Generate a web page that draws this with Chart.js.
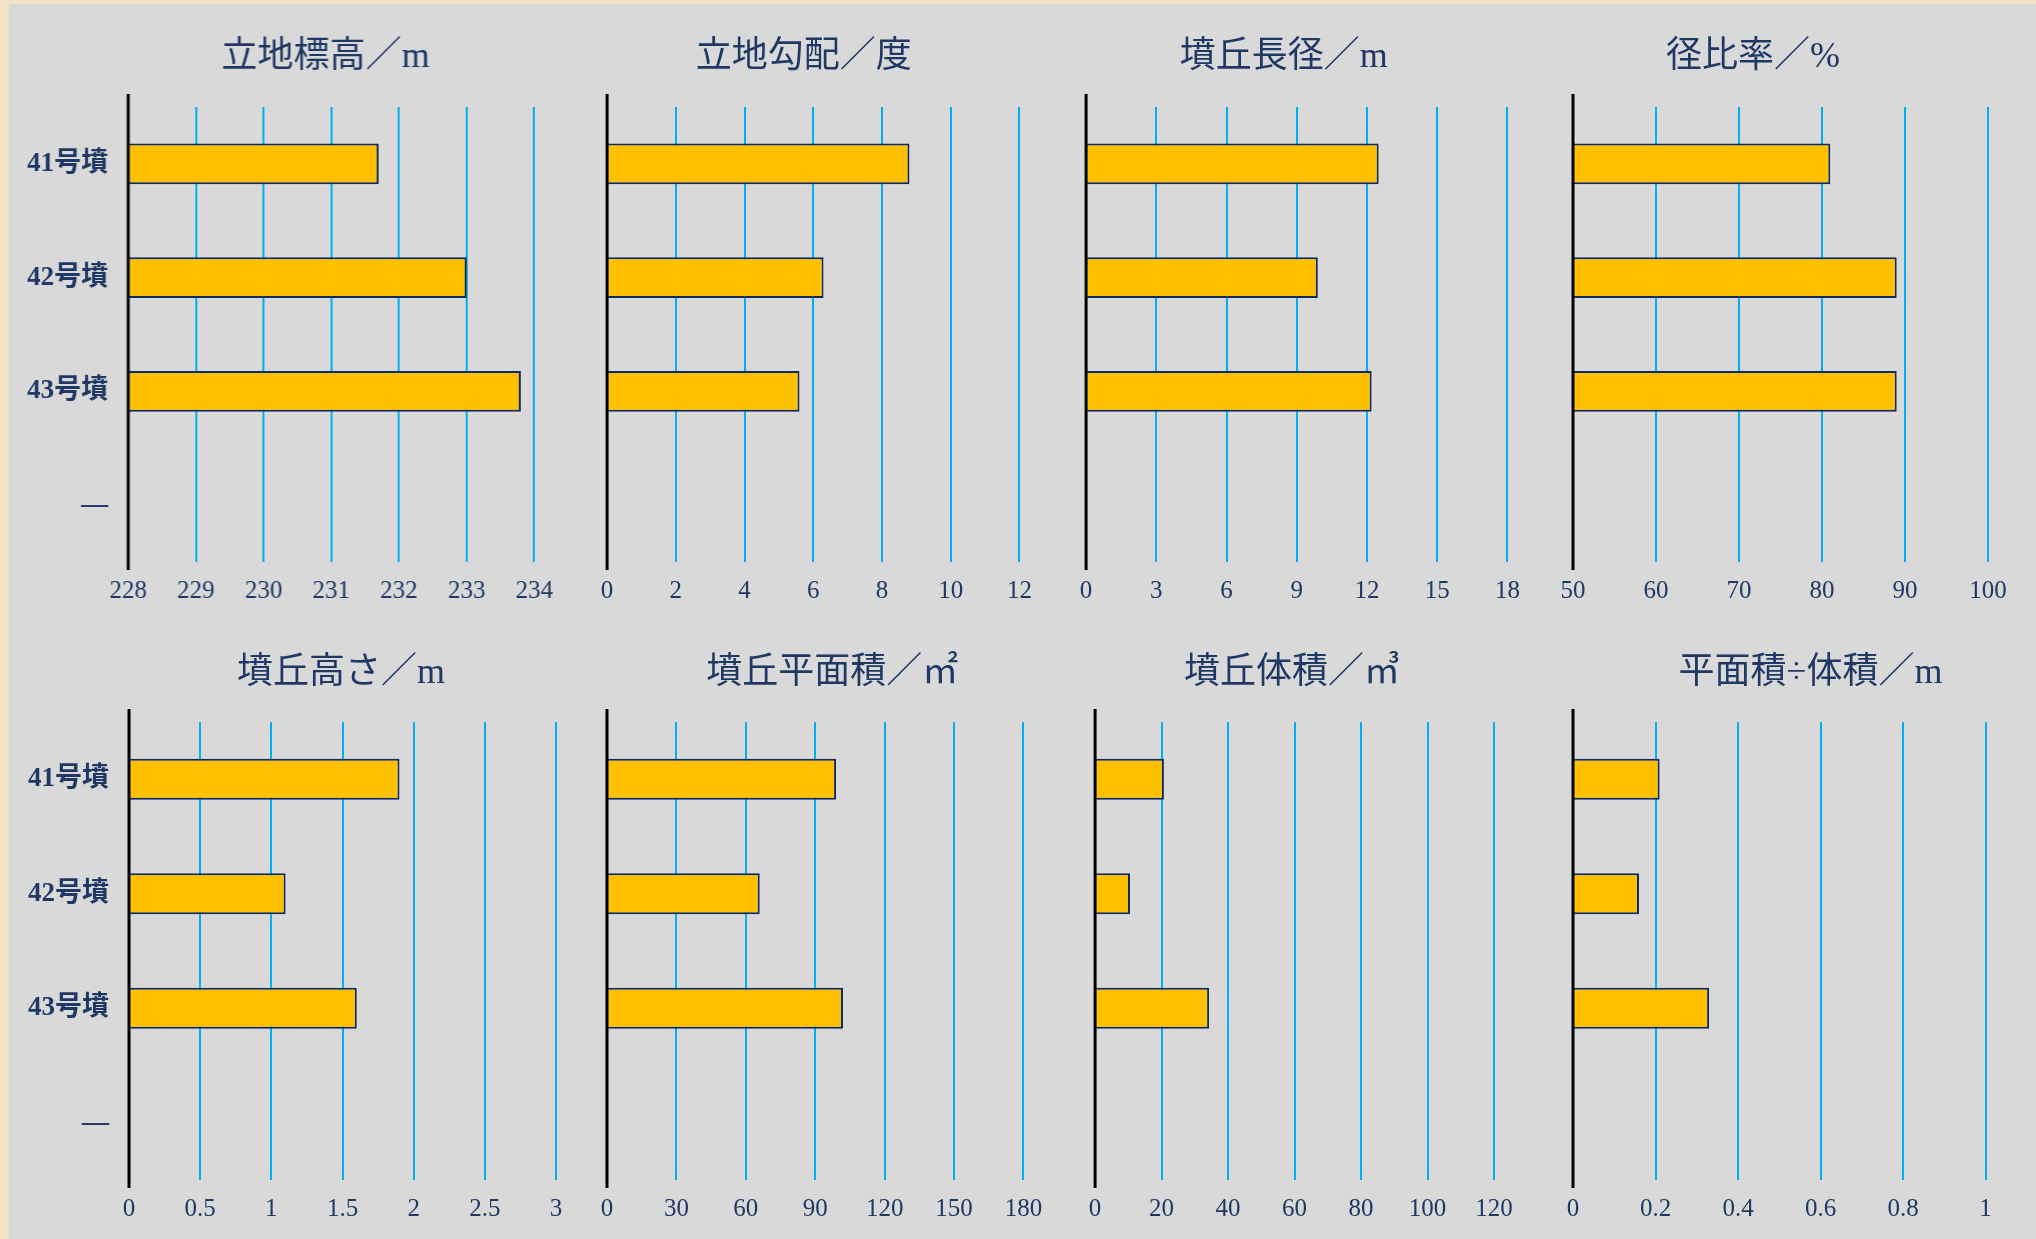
<!DOCTYPE html>
<html lang="ja">
<head>
<meta charset="utf-8">
<title>41〜43号墳 墳丘・立地の比較</title>
<script src="https://cdn.jsdelivr.net/npm/chart.js@4/dist/chart.umd.min.js"></script>
<style>
  html, body { margin: 0; padding: 0; }
  body {
    width: 2036px; height: 1239px; overflow: hidden; position: relative;
    background: #f3e4c5;
  }
  #sheet {
    position: absolute; left: 9px; top: 4px; right: 0; bottom: 0;
    background: #d9d9d9;
  }
  .panel { position: absolute; }
</style>
</head>
<body>
<div id="sheet"></div>
<div id="panels"></div>
<script>
// Mound names (the last slot is an empty placeholder row)
const categories = ['41号墳', '42号墳', '43号墳', '—'];

// Measured values for mounds 41, 42, 43
const siteElevation   = [231.7, 233.0, 233.8]; // 立地標高 m
const siteSlope       = [8.8, 6.3, 5.6];       // 立地勾配 度
const moundLongAxis   = [12.5, 9.9, 12.2];     // 墳丘長径 m
const axisRatio       = [81, 89, 89];          // 径比率 %
const moundHeight     = [1.9, 1.1, 1.6];       // 墳丘高さ m
const moundArea       = [99, 66, 102];         // 墳丘平面積 ㎡
const moundVolume     = [20.7, 10.5, 34.3];    // 墳丘体積 ㎥
const areaVolumeRatio = [0.21, 0.16, 0.33];    // 平面積÷体積 m

const panelTitles = ['立地標高／m', '立地勾配／度', '墳丘長径／m', '径比率／%',
                     '墳丘高さ／m', '墳丘平面積／㎡', '墳丘体積／㎥', '平面積÷体積／m'];
const panelSeries = [siteElevation, siteSlope, moundLongAxis, axisRatio,
                     moundHeight, moundArea, moundVolume, areaVolumeRatio];

// Value-axis tick ranges
const axisMin  = [228, 0, 0, 50, 0, 0, 0, 0];
const axisMax  = [234, 12, 18, 100, 3, 180, 120, 1];
const axisStep = [1, 2, 3, 10, 0.5, 30, 20, 0.2];

// ---- layout / styling ----
const NAVY = '#1f3864';
const SERIF = "'Liberation Serif', 'Noto Sans CJK JP', serif";

// plot area boxes in page pixels: [left, right], title centre x
const frames = [
  { areaL: 128.4, areaR: 533.9, titleX: 325.3, row: 0, labels: true },
  { areaL: 606.7, areaR: 1019.0, titleX: 803.3, row: 0, labels: false },
  { areaL: 1085.7, areaR: 1507.0, titleX: 1283.3, row: 0, labels: false },
  { areaL: 1573.3, areaR: 1988.3, titleX: 1753.3, row: 0, labels: false },
  { areaL: 128.6, areaR: 555.7, titleX: 340.6, row: 1, labels: true },
  { areaL: 606.5, areaR: 1023.0, titleX: 831.7, row: 1, labels: false },
  { areaL: 1094.8, areaR: 1493.7, titleX: 1291.7, row: 1, labels: false },
  { areaL: 1572.5, areaR: 1985.0, titleX: 1810.0, row: 1, labels: false }
];
// rows: canvas top/height, title centre y, plot top/bottom
const rows = [
  { top: 4, height: 616, titleY: 58, areaT: 107, areaB: 562 },
  { top: 620, height: 619, titleY: 674, areaT: 722, areaB: 1180 }
];

const TITLE_SIZE = 36;
const TICK_SIZE = 25;
const X_AXIS_H = 52;
const PAD_L = 30;
const PAD_R = 40;
const LABEL_AXIS_W = 120;

// black value-axis line, a little taller than the plot area
const axisLinePlugin = {
  id: 'axisLine',
  afterDatasetsDraw(chart) {
    const { ctx, chartArea } = chart;
    ctx.save();
    ctx.strokeStyle = '#000000';
    ctx.lineWidth = 3;
    ctx.beginPath();
    ctx.moveTo(chartArea.left, chartArea.top - 13);
    ctx.lineTo(chartArea.left, chartArea.bottom + 8);
    ctx.stroke();
    ctx.restore();
  }
};

const tickText = (v) => String(parseFloat(Number(v).toFixed(3)));

const host = document.getElementById('panels');

frames.forEach((f, i) => {
  const r = rows[f.row];
  // widths of the side boxes decide where the heading is centred
  let leftW = f.labels ? LABEL_AXIS_W : 0;
  let rightW = 2 * f.titleX - (f.areaL - leftW + f.areaR);
  if (rightW < 0) { leftW -= rightW; rightW = 0; }
  const L = f.areaL - leftW - PAD_L;
  const W = f.areaR + rightW + PAD_R - L;

  const titleLine = TITLE_SIZE * 1.2;
  const titlePadTop = r.titleY - r.top - titleLine / 2;
  const titlePadBottom = r.areaT - (r.top + titlePadTop + titleLine);
  const padBottom = r.top + r.height - r.areaB - X_AXIS_H;

  const box = document.createElement('div');
  box.className = 'panel';
  box.style.left = L + 'px';
  box.style.top = r.top + 'px';
  box.style.width = W + 'px';
  box.style.height = r.height + 'px';
  const cv = document.createElement('canvas');
  box.appendChild(cv);
  host.appendChild(box);

  const scales = {
    x: {
      type: 'linear',
      min: axisMin[i],
      max: axisMax[i],
      ticks: {
        stepSize: axisStep[i],
        color: NAVY,
        font: { family: SERIF, size: TICK_SIZE, lineHeight: 1.2 },
        padding: 14,
        maxRotation: 0,
        callback: tickText
      },
      grid: {
        color: (c) => (c.index === 0 ? 'rgba(0,0,0,0)' : '#00b0f0'),
        lineWidth: 2,
        drawTicks: false
      },
      border: { display: false },
      afterFit: (s) => { s.height = X_AXIS_H; }
    },
    y: {
      type: 'category',
      ticks: {
        display: f.labels,
        color: NAVY,
        font: { family: SERIF, size: 27, weight: 'bold' },
        padding: 12
      },
      grid: { display: false },
      border: { display: false },
      afterFit: (s) => { s.width = leftW; }
    }
  };
  if (rightW > 0) {
    // empty spacer on the right so the heading sits where it belongs
    scales.yRight = {
      type: 'category',
      axis: 'y',
      position: 'right',
      ticks: { display: false },
      grid: { display: false },
      border: { display: false },
      afterFit: (s) => { s.width = rightW; }
    };
  }

  new Chart(cv, {
    type: 'bar',
    data: {
      labels: categories,
      datasets: [{
        label: panelTitles[i],
        data: panelSeries[i],
        backgroundColor: '#ffc000',
        borderColor: '#0f2a60',
        borderWidth: 2,
        borderSkipped: 'start',
        barPercentage: 0.36,
        categoryPercentage: 1.0
      }]
    },
    options: {
      indexAxis: 'y',
      responsive: true,
      maintainAspectRatio: false,
      animation: false,
      devicePixelRatio: 1,
      layout: { padding: { left: PAD_L, right: PAD_R, top: 0, bottom: padBottom } },
      plugins: {
        legend: { display: false },
        tooltip: { enabled: false },
        title: {
          display: true,
          text: panelTitles[i],
          color: NAVY,
          font: { family: SERIF, size: TITLE_SIZE, weight: 'normal', lineHeight: 1.2 },
          padding: { top: titlePadTop, bottom: titlePadBottom }
        }
      },
      scales
    },
    plugins: [axisLinePlugin]
  });
});
</script>
</body>
</html>
